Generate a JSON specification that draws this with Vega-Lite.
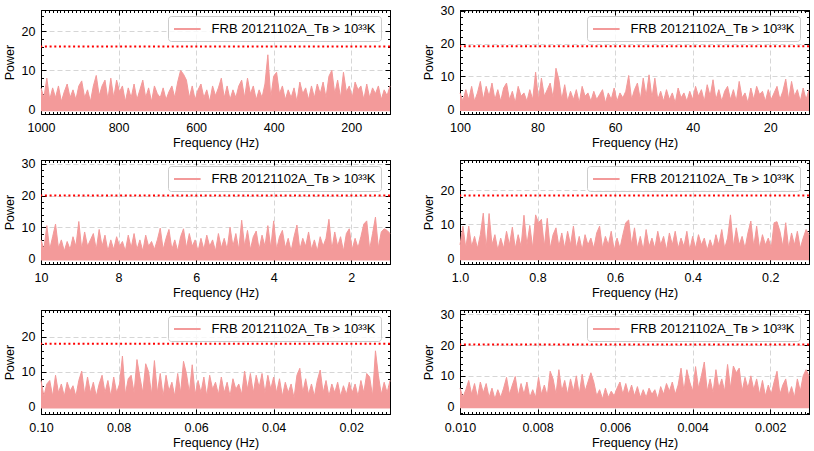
{
  "$schema": "https://vega.github.io/schema/vega-lite/v6.json",
  "padding": {"left": 3, "top": 4, "right": 5, "bottom": 5},
  "columns": 2,
  "spacing": {"row": 46, "column": 70},
  "bounds": "flush",
  "resolve": {"scale": {"color": "independent"}, "legend": {"color": "independent"}},
  "datasets": {
    "p1": [
      {"f":1000,"p":5.5},{"f":992.5,"p":3},{"f":985,"p":8},{"f":977.5,"p":2.5},{"f":970,"p":5.5},{"f":962.5,"p":3},{"f":955,"p":6},{"f":947.5,"p":2},{"f":940,"p":4.5},{"f":932.5,"p":6.5},
      {"f":925,"p":3},{"f":917.5,"p":5},{"f":910,"p":2.5},{"f":902.5,"p":6},{"f":895,"p":7.3},{"f":887.5,"p":3},{"f":880,"p":5},{"f":872.5,"p":2},{"f":865,"p":6},{"f":857.5,"p":8.7},
      {"f":850,"p":3.5},{"f":842.5,"p":6},{"f":835,"p":7.5},{"f":827.5,"p":2.5},{"f":820,"p":8},{"f":812.5,"p":3},{"f":805,"p":7.5},{"f":797.5,"p":4.5},{"f":790,"p":6},{"f":782.5,"p":2},
      {"f":775,"p":5.5},{"f":767.5,"p":3},{"f":760,"p":6.5},{"f":752.5,"p":2.5},{"f":745,"p":5},{"f":737.5,"p":7.5},{"f":730,"p":3},{"f":722.5,"p":5.5},{"f":715,"p":2},{"f":707.5,"p":6},
      {"f":700,"p":4},{"f":692.5,"p":3},{"f":685,"p":5.5},{"f":677.5,"p":2.5},{"f":670,"p":4.5},{"f":662.5,"p":6},{"f":655,"p":3},{"f":647.5,"p":7},{"f":640,"p":10},{"f":632.5,"p":9},
      {"f":625,"p":7.5},{"f":617.5,"p":3},{"f":610,"p":6},{"f":602.5,"p":2.5},{"f":595,"p":5},{"f":587.5,"p":6.5},{"f":580,"p":3},{"f":572.5,"p":5},{"f":565,"p":2},{"f":557.5,"p":6},
      {"f":550,"p":3.5},{"f":542.5,"p":5.5},{"f":535,"p":8},{"f":527.5,"p":3},{"f":520,"p":6},{"f":512.5,"p":2.5},{"f":505,"p":5},{"f":497.5,"p":3},{"f":490,"p":6},{"f":482.5,"p":7.5},
      {"f":475,"p":3},{"f":467.5,"p":8},{"f":460,"p":4},{"f":452.5,"p":6},{"f":445,"p":2.5},{"f":437.5,"p":5},{"f":430,"p":3},{"f":422.5,"p":6.5},{"f":415,"p":14},{"f":407.5,"p":3},
      {"f":400,"p":8.5},{"f":392.5,"p":9.5},{"f":385,"p":4},{"f":377.5,"p":6},{"f":370,"p":2.5},{"f":362.5,"p":5},{"f":355,"p":3},{"f":347.5,"p":5.5},{"f":340,"p":2},{"f":332.5,"p":7},
      {"f":325,"p":4},{"f":317.5,"p":5.5},{"f":310,"p":2.5},{"f":302.5,"p":6},{"f":295,"p":3},{"f":287.5,"p":6.5},{"f":280,"p":4},{"f":272.5,"p":7},{"f":265,"p":3},{"f":257.5,"p":8.5},
      {"f":250,"p":10},{"f":242.5,"p":4},{"f":235,"p":7.5},{"f":227.5,"p":3},{"f":220,"p":9.5},{"f":212.5,"p":4.5},{"f":205,"p":6},{"f":197.5,"p":3},{"f":190,"p":7},{"f":182.5,"p":5},
      {"f":175,"p":6},{"f":167.5,"p":2.5},{"f":160,"p":6.5},{"f":152.5,"p":3},{"f":145,"p":5.5},{"f":137.5,"p":4},{"f":130,"p":6},{"f":122.5,"p":2.5},{"f":115,"p":5},{"f":107.5,"p":3.5},
      {"f":100,"p":6}
    ],
    "p2": [
      {"f":100,"p":5},{"f":99.25,"p":2.5},{"f":98.5,"p":6},{"f":97.75,"p":3},{"f":97,"p":7},{"f":96.25,"p":2.5},{"f":95.5,"p":5},{"f":94.75,"p":8.5},{"f":94,"p":3},{"f":93.25,"p":7},
      {"f":92.5,"p":4},{"f":91.75,"p":8},{"f":91,"p":3},{"f":90.25,"p":6},{"f":89.5,"p":2.5},{"f":88.75,"p":6.5},{"f":88,"p":8},{"f":87.25,"p":3},{"f":86.5,"p":5.5},{"f":85.75,"p":2},
      {"f":85,"p":7},{"f":84.25,"p":4},{"f":83.5,"p":5},{"f":82.75,"p":2.5},{"f":82,"p":6},{"f":81.25,"p":3},{"f":80.5,"p":11.3},{"f":79.75,"p":3},{"f":79,"p":9.5},{"f":78.25,"p":4},
      {"f":77.5,"p":6},{"f":76.75,"p":8},{"f":76,"p":3.5},{"f":75.25,"p":12.5},{"f":74.5,"p":9},{"f":73.75,"p":3},{"f":73,"p":7.5},{"f":72.25,"p":2.5},{"f":71.5,"p":5.5},{"f":70.75,"p":3},
      {"f":70,"p":6},{"f":69.25,"p":2},{"f":68.5,"p":7},{"f":67.75,"p":4},{"f":67,"p":5},{"f":66.25,"p":2.5},{"f":65.5,"p":5.5},{"f":64.75,"p":3},{"f":64,"p":4.5},{"f":63.25,"p":6},
      {"f":62.5,"p":2},{"f":61.75,"p":5},{"f":61,"p":3},{"f":60.25,"p":6.5},{"f":59.5,"p":2.5},{"f":58.75,"p":5},{"f":58,"p":3.5},{"f":57.25,"p":5.5},{"f":56.5,"p":10.3},{"f":55.75,"p":3},
      {"f":55,"p":6},{"f":54.25,"p":8},{"f":53.5,"p":3},{"f":52.75,"p":9.5},{"f":52,"p":4},{"f":51.25,"p":10.5},{"f":50.5,"p":3.5},{"f":49.75,"p":9.5},{"f":49,"p":3},{"f":48.25,"p":5.5},
      {"f":47.5,"p":2.5},{"f":46.75,"p":6},{"f":46,"p":3},{"f":45.25,"p":5},{"f":44.5,"p":2},{"f":43.75,"p":6.5},{"f":43,"p":3.5},{"f":42.25,"p":5},{"f":41.5,"p":2.5},{"f":40.75,"p":5.5},
      {"f":40,"p":3},{"f":39.25,"p":7},{"f":38.5,"p":4},{"f":37.75,"p":6},{"f":37,"p":2.5},{"f":36.25,"p":7.5},{"f":35.5,"p":4},{"f":34.75,"p":9},{"f":34,"p":3},{"f":33.25,"p":6},
      {"f":32.5,"p":2.5},{"f":31.75,"p":5.5},{"f":31,"p":7},{"f":30.25,"p":3},{"f":29.5,"p":6},{"f":28.75,"p":2.5},{"f":28,"p":8.5},{"f":27.25,"p":3.5},{"f":26.5,"p":5},{"f":25.75,"p":2},
      {"f":25,"p":6.5},{"f":24.25,"p":3},{"f":23.5,"p":7},{"f":22.75,"p":4.5},{"f":22,"p":5.5},{"f":21.25,"p":2.5},{"f":20.5,"p":6},{"f":19.75,"p":3},{"f":19,"p":5},{"f":18.25,"p":7},
      {"f":17.5,"p":3},{"f":16.75,"p":5.5},{"f":16,"p":9.2},{"f":15.25,"p":3},{"f":14.5,"p":8.5},{"f":13.75,"p":4},{"f":13,"p":6},{"f":12.25,"p":2.5},{"f":11.5,"p":6.5},{"f":10.75,"p":3},
      {"f":10,"p":6}
    ],
    "p3": [
      {"f":10,"p":6},{"f":9.925,"p":3},{"f":9.85,"p":10.5},{"f":9.775,"p":3},{"f":9.7,"p":7},{"f":9.625,"p":11},{"f":9.55,"p":3.5},{"f":9.475,"p":6},{"f":9.4,"p":2.5},{"f":9.325,"p":5.5},
      {"f":9.25,"p":3},{"f":9.175,"p":7},{"f":9.1,"p":4},{"f":9.025,"p":11.8},{"f":8.95,"p":3},{"f":8.875,"p":8.5},{"f":8.8,"p":4},{"f":8.725,"p":6},{"f":8.65,"p":8},{"f":8.575,"p":3},
      {"f":8.5,"p":9.3},{"f":8.425,"p":4},{"f":8.35,"p":7.5},{"f":8.275,"p":2.5},{"f":8.2,"p":6},{"f":8.125,"p":3},{"f":8.05,"p":7},{"f":7.975,"p":4},{"f":7.9,"p":5.5},{"f":7.825,"p":2.5},
      {"f":7.75,"p":7.5},{"f":7.675,"p":3.5},{"f":7.6,"p":8},{"f":7.525,"p":3},{"f":7.45,"p":6},{"f":7.375,"p":2.5},{"f":7.3,"p":7.5},{"f":7.225,"p":4},{"f":7.15,"p":5.5},{"f":7.075,"p":3},
      {"f":7,"p":6},{"f":6.925,"p":9.7},{"f":6.85,"p":3},{"f":6.775,"p":6.5},{"f":6.7,"p":9.3},{"f":6.625,"p":3},{"f":6.55,"p":6},{"f":6.475,"p":2.5},{"f":6.4,"p":7},{"f":6.325,"p":9.5},
      {"f":6.25,"p":3.5},{"f":6.175,"p":8},{"f":6.1,"p":4},{"f":6.025,"p":6},{"f":5.95,"p":2.5},{"f":5.875,"p":6.5},{"f":5.8,"p":3},{"f":5.725,"p":7.5},{"f":5.65,"p":4},{"f":5.575,"p":6},
      {"f":5.5,"p":2.5},{"f":5.425,"p":8},{"f":5.35,"p":3.5},{"f":5.275,"p":6.5},{"f":5.2,"p":3},{"f":5.125,"p":10},{"f":5.05,"p":4},{"f":4.975,"p":8},{"f":4.9,"p":3},{"f":4.825,"p":12.2},
      {"f":4.75,"p":4},{"f":4.675,"p":9},{"f":4.6,"p":3},{"f":4.525,"p":7},{"f":4.45,"p":8.8},{"f":4.375,"p":3},{"f":4.3,"p":7.5},{"f":4.225,"p":4},{"f":4.15,"p":10.5},{"f":4.075,"p":3.5},
      {"f":4,"p":12},{"f":3.925,"p":3},{"f":3.85,"p":7},{"f":3.775,"p":9},{"f":3.7,"p":3.5},{"f":3.625,"p":6.5},{"f":3.55,"p":2.5},{"f":3.475,"p":7},{"f":3.4,"p":10.7},{"f":3.325,"p":3},
      {"f":3.25,"p":6.5},{"f":3.175,"p":4},{"f":3.1,"p":8.5},{"f":3.025,"p":3},{"f":2.95,"p":6},{"f":2.875,"p":2.5},{"f":2.8,"p":7},{"f":2.725,"p":4},{"f":2.65,"p":6.5},{"f":2.575,"p":12.5},
      {"f":2.5,"p":3},{"f":2.425,"p":8.5},{"f":2.35,"p":4},{"f":2.275,"p":7},{"f":2.2,"p":2.5},{"f":2.125,"p":8},{"f":2.05,"p":9.5},{"f":1.975,"p":3},{"f":1.9,"p":6.5},{"f":1.825,"p":3.5},
      {"f":1.75,"p":7},{"f":1.675,"p":11},{"f":1.6,"p":12},{"f":1.525,"p":3},{"f":1.45,"p":8},{"f":1.375,"p":13.2},{"f":1.3,"p":3.5},{"f":1.225,"p":8.5},{"f":1.15,"p":9.5},{"f":1.075,"p":9},
      {"f":1,"p":8}
    ],
    "p4": [
      {"f":1,"p":4},{"f":0.9925,"p":9.5},{"f":0.985,"p":3},{"f":0.9775,"p":9.5},{"f":0.97,"p":3.5},{"f":0.9625,"p":6.5},{"f":0.955,"p":3},{"f":0.9475,"p":7},{"f":0.94,"p":13.3},{"f":0.9325,"p":3},
      {"f":0.925,"p":13.2},{"f":0.9175,"p":4},{"f":0.91,"p":7},{"f":0.9025,"p":2.5},{"f":0.895,"p":6},{"f":0.8875,"p":3},{"f":0.88,"p":8},{"f":0.8725,"p":4},{"f":0.865,"p":9.2},{"f":0.8575,"p":3},
      {"f":0.85,"p":7},{"f":0.8425,"p":3.5},{"f":0.835,"p":12.7},{"f":0.8275,"p":4},{"f":0.82,"p":9.7},{"f":0.8125,"p":3},{"f":0.805,"p":12.8},{"f":0.7975,"p":10.5},{"f":0.79,"p":11.5},{"f":0.7825,"p":3.5},
      {"f":0.775,"p":11.8},{"f":0.7675,"p":3},{"f":0.76,"p":7},{"f":0.7525,"p":9},{"f":0.745,"p":3.5},{"f":0.7375,"p":7.5},{"f":0.73,"p":3},{"f":0.7225,"p":8},{"f":0.715,"p":4},{"f":0.7075,"p":9.5},
      {"f":0.7,"p":3},{"f":0.6925,"p":6.5},{"f":0.685,"p":2.5},{"f":0.6775,"p":7},{"f":0.67,"p":4},{"f":0.6625,"p":6},{"f":0.655,"p":3},{"f":0.6475,"p":7.5},{"f":0.64,"p":9.5},{"f":0.6325,"p":3},
      {"f":0.625,"p":6.5},{"f":0.6175,"p":4},{"f":0.61,"p":8},{"f":0.6025,"p":2.5},{"f":0.595,"p":6},{"f":0.5875,"p":3},{"f":0.58,"p":7},{"f":0.5725,"p":10.5},{"f":0.565,"p":11.3},{"f":0.5575,"p":4},
      {"f":0.55,"p":9},{"f":0.5425,"p":3},{"f":0.535,"p":6.5},{"f":0.5275,"p":2.5},{"f":0.52,"p":8.5},{"f":0.5125,"p":3.5},{"f":0.505,"p":6},{"f":0.4975,"p":3},{"f":0.49,"p":8},{"f":0.4825,"p":4},
      {"f":0.475,"p":6.5},{"f":0.4675,"p":2.5},{"f":0.46,"p":7.5},{"f":0.4525,"p":4},{"f":0.445,"p":8},{"f":0.4375,"p":3},{"f":0.43,"p":6},{"f":0.4225,"p":3.5},{"f":0.415,"p":8},{"f":0.4075,"p":2.5},
      {"f":0.4,"p":6.5},{"f":0.3925,"p":3},{"f":0.385,"p":7},{"f":0.3775,"p":4},{"f":0.37,"p":6},{"f":0.3625,"p":2.5},{"f":0.355,"p":5.5},{"f":0.3475,"p":3},{"f":0.34,"p":7},{"f":0.3325,"p":4},
      {"f":0.325,"p":8.5},{"f":0.3175,"p":3},{"f":0.31,"p":6},{"f":0.3025,"p":12.8},{"f":0.295,"p":3.5},{"f":0.2875,"p":9},{"f":0.28,"p":4},{"f":0.2725,"p":6.5},{"f":0.265,"p":3},{"f":0.2575,"p":7.5},
      {"f":0.25,"p":11},{"f":0.2425,"p":3.5},{"f":0.235,"p":9.5},{"f":0.2275,"p":3},{"f":0.22,"p":7},{"f":0.2125,"p":4},{"f":0.205,"p":6},{"f":0.1975,"p":3},{"f":0.19,"p":10.5},{"f":0.1825,"p":10.8},
      {"f":0.175,"p":8},{"f":0.1675,"p":3.5},{"f":0.16,"p":10.5},{"f":0.1525,"p":3},{"f":0.145,"p":7.5},{"f":0.1375,"p":4},{"f":0.13,"p":8},{"f":0.1225,"p":3},{"f":0.115,"p":6},{"f":0.1075,"p":8.5},
      {"f":0.1,"p":7}
    ],
    "p5": [
      {"f":0.1,"p":7.5},{"f":0.09925,"p":3},{"f":0.0985,"p":6.5},{"f":0.09775,"p":7.5},{"f":0.097,"p":3},{"f":0.09625,"p":9},{"f":0.0955,"p":4},{"f":0.09475,"p":6.5},{"f":0.094,"p":3},{"f":0.09325,"p":7},
      {"f":0.0925,"p":4.5},{"f":0.09175,"p":6},{"f":0.091,"p":3},{"f":0.09025,"p":7.5},{"f":0.0895,"p":10.2},{"f":0.08875,"p":3.5},{"f":0.088,"p":8.5},{"f":0.08725,"p":4},{"f":0.0865,"p":7},{"f":0.08575,"p":3},
      {"f":0.085,"p":6.5},{"f":0.08425,"p":9},{"f":0.0835,"p":4},{"f":0.08275,"p":7.5},{"f":0.082,"p":3},{"f":0.08125,"p":8.5},{"f":0.0805,"p":4},{"f":0.07975,"p":6.5},{"f":0.079,"p":14.5},{"f":0.07825,"p":3.5},
      {"f":0.0775,"p":8},{"f":0.07675,"p":9},{"f":0.076,"p":4},{"f":0.07525,"p":13.5},{"f":0.0745,"p":8.5},{"f":0.07375,"p":4},{"f":0.073,"p":12.3},{"f":0.07225,"p":10},{"f":0.0715,"p":3.5},{"f":0.07075,"p":13.2},
      {"f":0.07,"p":4},{"f":0.06925,"p":9.5},{"f":0.0685,"p":3},{"f":0.06775,"p":9},{"f":0.067,"p":4.5},{"f":0.06625,"p":7},{"f":0.0655,"p":3},{"f":0.06475,"p":9.5},{"f":0.064,"p":4},{"f":0.06325,"p":13},
      {"f":0.0625,"p":9.5},{"f":0.06175,"p":4},{"f":0.061,"p":12},{"f":0.06025,"p":3.5},{"f":0.0595,"p":7.5},{"f":0.05875,"p":4},{"f":0.058,"p":8.5},{"f":0.05725,"p":3},{"f":0.0565,"p":9},{"f":0.05575,"p":5},
      {"f":0.055,"p":7},{"f":0.05425,"p":3.5},{"f":0.0535,"p":8.5},{"f":0.05275,"p":4},{"f":0.052,"p":7},{"f":0.05125,"p":3},{"f":0.0505,"p":8},{"f":0.04975,"p":5},{"f":0.049,"p":6.5},{"f":0.04825,"p":3.5},
      {"f":0.0475,"p":10.2},{"f":0.04675,"p":5},{"f":0.046,"p":9.5},{"f":0.04525,"p":4},{"f":0.0445,"p":9},{"f":0.04375,"p":5.5},{"f":0.043,"p":9.5},{"f":0.04225,"p":4},{"f":0.0415,"p":9},{"f":0.04075,"p":5},
      {"f":0.04,"p":8.5},{"f":0.03925,"p":4},{"f":0.0385,"p":8},{"f":0.03775,"p":3},{"f":0.037,"p":7},{"f":0.03625,"p":4},{"f":0.0355,"p":6.5},{"f":0.03475,"p":2.5},{"f":0.034,"p":9},{"f":0.03325,"p":11},
      {"f":0.0325,"p":4},{"f":0.03175,"p":8},{"f":0.031,"p":3.5},{"f":0.03025,"p":6.5},{"f":0.0295,"p":3},{"f":0.02875,"p":7.5},{"f":0.028,"p":10.5},{"f":0.02725,"p":4},{"f":0.0265,"p":7.5},{"f":0.02575,"p":3},
      {"f":0.025,"p":6.5},{"f":0.02425,"p":4},{"f":0.0235,"p":7},{"f":0.02275,"p":3},{"f":0.022,"p":6},{"f":0.02125,"p":3.5},{"f":0.0205,"p":7},{"f":0.01975,"p":4},{"f":0.019,"p":6.5},{"f":0.01825,"p":3},
      {"f":0.0175,"p":7.5},{"f":0.01675,"p":4},{"f":0.016,"p":9.5},{"f":0.01525,"p":8.5},{"f":0.0145,"p":3},{"f":0.01375,"p":16},{"f":0.013,"p":9},{"f":0.01225,"p":3.5},{"f":0.0115,"p":7},{"f":0.01075,"p":4},
      {"f":0.01,"p":7.5}
    ],
    "p6": [
      {"f":0.01,"p":6},{"f":0.009925,"p":3},{"f":0.00985,"p":5.5},{"f":0.009775,"p":8.5},{"f":0.0097,"p":4},{"f":0.009625,"p":7.5},{"f":0.00955,"p":3},{"f":0.009475,"p":8},{"f":0.0094,"p":4.5},{"f":0.009325,"p":7.5},
      {"f":0.00925,"p":3},{"f":0.009175,"p":6},{"f":0.0091,"p":2.5},{"f":0.009025,"p":5.5},{"f":0.00895,"p":3},{"f":0.008875,"p":6},{"f":0.0088,"p":9.5},{"f":0.008725,"p":4},{"f":0.00865,"p":7},{"f":0.008575,"p":9.8},
      {"f":0.0085,"p":3.5},{"f":0.008425,"p":7.5},{"f":0.00835,"p":4},{"f":0.008275,"p":8},{"f":0.0082,"p":3},{"f":0.008125,"p":5.5},{"f":0.00805,"p":3},{"f":0.007975,"p":9.5},{"f":0.0079,"p":4},{"f":0.007825,"p":7},
      {"f":0.00775,"p":3.5},{"f":0.007675,"p":11.5},{"f":0.0076,"p":9},{"f":0.007525,"p":4},{"f":0.00745,"p":12},{"f":0.007375,"p":5},{"f":0.0073,"p":8.5},{"f":0.007225,"p":4},{"f":0.00715,"p":9},{"f":0.007075,"p":5},
      {"f":0.007,"p":10},{"f":0.006925,"p":4},{"f":0.00685,"p":10.5},{"f":0.006775,"p":5},{"f":0.0067,"p":8},{"f":0.006625,"p":11},{"f":0.00655,"p":8},{"f":0.006475,"p":3.5},{"f":0.0064,"p":5.5},{"f":0.006325,"p":2.5},
      {"f":0.00625,"p":6},{"f":0.006175,"p":3},{"f":0.0061,"p":5},{"f":0.006025,"p":3.5},{"f":0.00595,"p":6},{"f":0.005875,"p":8},{"f":0.0058,"p":4},{"f":0.005725,"p":7.5},{"f":0.00565,"p":4},{"f":0.005575,"p":7},
      {"f":0.0055,"p":3.5},{"f":0.005425,"p":6.5},{"f":0.00535,"p":3},{"f":0.005275,"p":5.5},{"f":0.0052,"p":3},{"f":0.005125,"p":6},{"f":0.00505,"p":4},{"f":0.004975,"p":5.5},{"f":0.0049,"p":2.5},{"f":0.004825,"p":6.5},
      {"f":0.00475,"p":4},{"f":0.004675,"p":7.5},{"f":0.0046,"p":5},{"f":0.004525,"p":8},{"f":0.00445,"p":4},{"f":0.004375,"p":7},{"f":0.0043,"p":12.5},{"f":0.004225,"p":5},{"f":0.00415,"p":12},{"f":0.004075,"p":8},
      {"f":0.004,"p":5},{"f":0.003925,"p":13},{"f":0.00385,"p":6},{"f":0.003775,"p":10},{"f":0.0037,"p":14.5},{"f":0.003625,"p":5},{"f":0.00355,"p":9},{"f":0.003475,"p":4.5},{"f":0.0034,"p":12},{"f":0.003325,"p":6},
      {"f":0.00325,"p":9},{"f":0.003175,"p":5},{"f":0.0031,"p":13.7},{"f":0.003025,"p":6},{"f":0.00295,"p":13.2},{"f":0.002875,"p":11},{"f":0.0028,"p":12.5},{"f":0.002725,"p":5},{"f":0.00265,"p":9.5},{"f":0.002575,"p":6},
      {"f":0.0025,"p":10},{"f":0.002425,"p":5.5},{"f":0.00235,"p":9},{"f":0.002275,"p":4},{"f":0.0022,"p":8.5},{"f":0.002125,"p":3.5},{"f":0.00205,"p":7},{"f":0.001975,"p":4},{"f":0.0019,"p":8},{"f":0.001825,"p":11.5},
      {"f":0.00175,"p":4},{"f":0.001675,"p":7},{"f":0.0016,"p":9},{"f":0.001525,"p":3.5},{"f":0.00145,"p":6.5},{"f":0.001375,"p":3},{"f":0.0013,"p":9},{"f":0.001225,"p":5},{"f":0.00115,"p":10},{"f":0.001075,"p":12},
      {"f":0.001,"p":10}
    ]
  },
  "concat": [
    {
      "width": 349, "height": 104,
      "data": {"name": "p1"},
      "layer": [
        {
          "mark": {"type": "area", "opacity": 1, "line": {"strokeWidth": 1}},
          "encoding": {
            "x": {"field": "f", "type": "quantitative", "title": "Frequency (Hz)", "scale": {"domain": [100, 1000], "reverse": true, "nice": false, "zero": false}, "axis": {"values": [1000, 800, 600, 400, 200], "format": "d", "grid": true}},
            "y": {"field": "p", "type": "quantitative", "title": "Power", "scale": {"domain": [-1.2, 25.5], "nice": false, "zero": false}, "axis": {"tickCount": 3, "grid": true}},
            "y2": {"datum": -0.5},
            "color": {"datum": "FRB 20121102A_Tʙ > 10³³K", "scale": {"range": ["#f39a9a"]}, "legend": {"title": null}}
          }
        },
        {
          "mark": {"type": "point", "opacity": 0},
          "encoding": {
            "x": {"field": "f", "type": "quantitative", "title": null, "scale": {"domain": [100, 1000], "reverse": true, "nice": false, "zero": false}, "axis": {"orient": "bottom", "tickCount": 90, "labels": false, "tickSize": -2.5}},
            "y": {"field": "p", "type": "quantitative", "title": null, "scale": {"domain": [-1.2, 25.5], "nice": false, "zero": false}, "axis": {"orient": "left", "tickCount": 15, "labels": false, "tickSize": -2.5}}
          }
        },
        {
          "mark": {"type": "point", "opacity": 0},
          "encoding": {
            "x": {"field": "f", "type": "quantitative", "title": null, "scale": {"domain": [100, 1000], "reverse": true, "nice": false, "zero": false}, "axis": {"orient": "top", "values": [1000, 800, 600, 400, 200], "labels": false}},
            "y": {"field": "p", "type": "quantitative", "title": null, "scale": {"domain": [-1.2, 25.5], "nice": false, "zero": false}, "axis": {"orient": "right", "tickCount": 3, "labels": false}}
          }
        },
        {
          "mark": {"type": "point", "opacity": 0},
          "encoding": {
            "x": {"field": "f", "type": "quantitative", "title": null, "scale": {"domain": [100, 1000], "reverse": true, "nice": false, "zero": false}, "axis": {"orient": "top", "tickCount": 90, "labels": false, "tickSize": -2.5}},
            "y": {"field": "p", "type": "quantitative", "title": null, "scale": {"domain": [-1.2, 25.5], "nice": false, "zero": false}, "axis": {"orient": "right", "tickCount": 15, "labels": false, "tickSize": -2.5}}
          }
        },
        {
          "data": {"values": [{"thr": 16.1}]},
          "mark": {"type": "rule", "color": "#ff0000", "strokeWidth": 2, "strokeDash": [2, 2.7]},
          "encoding": {"y": {"field": "thr", "type": "quantitative", "scale": {"domain": [-1.2, 25.5], "nice": false, "zero": false}, "axis": null}}
        }
      ],
      "resolve": {"axis": {"x": "independent", "y": "independent"}}
    },
    {
      "width": 349, "height": 104,
      "data": {"name": "p2"},
      "layer": [
        {
          "mark": {"type": "area", "opacity": 1, "line": {"strokeWidth": 1}},
          "encoding": {
            "x": {"field": "f", "type": "quantitative", "title": "Frequency (Hz)", "scale": {"domain": [10, 100], "reverse": true, "nice": false, "zero": false}, "axis": {"values": [100, 80, 60, 40, 20], "format": "d", "grid": true}},
            "y": {"field": "p", "type": "quantitative", "title": "Power", "scale": {"domain": [-1.4, 30.2], "nice": false, "zero": false}, "axis": {"tickCount": 3, "grid": true}},
            "y2": {"datum": -0.5},
            "color": {"datum": "FRB 20121102A_Tʙ > 10³³K", "scale": {"range": ["#f39a9a"]}, "legend": {"title": null}}
          }
        },
        {
          "mark": {"type": "point", "opacity": 0},
          "encoding": {
            "x": {"field": "f", "type": "quantitative", "title": null, "scale": {"domain": [10, 100], "reverse": true, "nice": false, "zero": false}, "axis": {"orient": "bottom", "tickCount": 90, "labels": false, "tickSize": -2.5}},
            "y": {"field": "p", "type": "quantitative", "title": null, "scale": {"domain": [-1.4, 30.2], "nice": false, "zero": false}, "axis": {"orient": "left", "tickCount": 15, "labels": false, "tickSize": -2.5}}
          }
        },
        {
          "mark": {"type": "point", "opacity": 0},
          "encoding": {
            "x": {"field": "f", "type": "quantitative", "title": null, "scale": {"domain": [10, 100], "reverse": true, "nice": false, "zero": false}, "axis": {"orient": "top", "values": [100, 80, 60, 40, 20], "labels": false}},
            "y": {"field": "p", "type": "quantitative", "title": null, "scale": {"domain": [-1.4, 30.2], "nice": false, "zero": false}, "axis": {"orient": "right", "tickCount": 3, "labels": false}}
          }
        },
        {
          "mark": {"type": "point", "opacity": 0},
          "encoding": {
            "x": {"field": "f", "type": "quantitative", "title": null, "scale": {"domain": [10, 100], "reverse": true, "nice": false, "zero": false}, "axis": {"orient": "top", "tickCount": 90, "labels": false, "tickSize": -2.5}},
            "y": {"field": "p", "type": "quantitative", "title": null, "scale": {"domain": [-1.4, 30.2], "nice": false, "zero": false}, "axis": {"orient": "right", "tickCount": 15, "labels": false, "tickSize": -2.5}}
          }
        },
        {
          "data": {"values": [{"thr": 19.2}]},
          "mark": {"type": "rule", "color": "#ff0000", "strokeWidth": 2, "strokeDash": [2, 2.7]},
          "encoding": {"y": {"field": "thr", "type": "quantitative", "scale": {"domain": [-1.4, 30.2], "nice": false, "zero": false}, "axis": null}}
        }
      ],
      "resolve": {"axis": {"x": "independent", "y": "independent"}}
    },
    {
      "width": 349, "height": 104,
      "data": {"name": "p3"},
      "layer": [
        {
          "mark": {"type": "area", "opacity": 1, "line": {"strokeWidth": 1}},
          "encoding": {
            "x": {"field": "f", "type": "quantitative", "title": "Frequency (Hz)", "scale": {"domain": [1, 10], "reverse": true, "nice": false, "zero": false}, "axis": {"values": [10, 8, 6, 4, 2], "format": "d", "grid": true}},
            "y": {"field": "p", "type": "quantitative", "title": "Power", "scale": {"domain": [-1.6, 31.2], "nice": false, "zero": false}, "axis": {"tickCount": 3, "grid": true}},
            "y2": {"datum": -0.5},
            "color": {"datum": "FRB 20121102A_Tʙ > 10³³K", "scale": {"range": ["#f39a9a"]}, "legend": {"title": null}}
          }
        },
        {
          "mark": {"type": "point", "opacity": 0},
          "encoding": {
            "x": {"field": "f", "type": "quantitative", "title": null, "scale": {"domain": [1, 10], "reverse": true, "nice": false, "zero": false}, "axis": {"orient": "bottom", "tickCount": 90, "labels": false, "tickSize": -2.5}},
            "y": {"field": "p", "type": "quantitative", "title": null, "scale": {"domain": [-1.6, 31.2], "nice": false, "zero": false}, "axis": {"orient": "left", "tickCount": 15, "labels": false, "tickSize": -2.5}}
          }
        },
        {
          "mark": {"type": "point", "opacity": 0},
          "encoding": {
            "x": {"field": "f", "type": "quantitative", "title": null, "scale": {"domain": [1, 10], "reverse": true, "nice": false, "zero": false}, "axis": {"orient": "top", "values": [10, 8, 6, 4, 2], "labels": false}},
            "y": {"field": "p", "type": "quantitative", "title": null, "scale": {"domain": [-1.6, 31.2], "nice": false, "zero": false}, "axis": {"orient": "right", "tickCount": 3, "labels": false}}
          }
        },
        {
          "mark": {"type": "point", "opacity": 0},
          "encoding": {
            "x": {"field": "f", "type": "quantitative", "title": null, "scale": {"domain": [1, 10], "reverse": true, "nice": false, "zero": false}, "axis": {"orient": "top", "tickCount": 90, "labels": false, "tickSize": -2.5}},
            "y": {"field": "p", "type": "quantitative", "title": null, "scale": {"domain": [-1.6, 31.2], "nice": false, "zero": false}, "axis": {"orient": "right", "tickCount": 15, "labels": false, "tickSize": -2.5}}
          }
        },
        {
          "data": {"values": [{"thr": 20.0}]},
          "mark": {"type": "rule", "color": "#ff0000", "strokeWidth": 2, "strokeDash": [2, 2.7]},
          "encoding": {"y": {"field": "thr", "type": "quantitative", "scale": {"domain": [-1.6, 31.2], "nice": false, "zero": false}, "axis": null}}
        }
      ],
      "resolve": {"axis": {"x": "independent", "y": "independent"}}
    },
    {
      "width": 349, "height": 104,
      "data": {"name": "p4"},
      "layer": [
        {
          "mark": {"type": "area", "opacity": 1, "line": {"strokeWidth": 1}},
          "encoding": {
            "x": {"field": "f", "type": "quantitative", "title": "Frequency (Hz)", "scale": {"domain": [0.1, 1], "reverse": true, "nice": false, "zero": false}, "axis": {"values": [1, 0.8, 0.6, 0.4, 0.2], "format": ".1f", "grid": true}},
            "y": {"field": "p", "type": "quantitative", "title": "Power", "scale": {"domain": [-1.6, 28.9], "nice": false, "zero": false}, "axis": {"tickCount": 3, "grid": true}},
            "y2": {"datum": -0.5},
            "color": {"datum": "FRB 20121102A_Tʙ > 10³³K", "scale": {"range": ["#f39a9a"]}, "legend": {"title": null}}
          }
        },
        {
          "mark": {"type": "point", "opacity": 0},
          "encoding": {
            "x": {"field": "f", "type": "quantitative", "title": null, "scale": {"domain": [0.1, 1], "reverse": true, "nice": false, "zero": false}, "axis": {"orient": "bottom", "tickCount": 90, "labels": false, "tickSize": -2.5}},
            "y": {"field": "p", "type": "quantitative", "title": null, "scale": {"domain": [-1.6, 28.9], "nice": false, "zero": false}, "axis": {"orient": "left", "tickCount": 15, "labels": false, "tickSize": -2.5}}
          }
        },
        {
          "mark": {"type": "point", "opacity": 0},
          "encoding": {
            "x": {"field": "f", "type": "quantitative", "title": null, "scale": {"domain": [0.1, 1], "reverse": true, "nice": false, "zero": false}, "axis": {"orient": "top", "values": [1, 0.8, 0.6, 0.4, 0.2], "labels": false}},
            "y": {"field": "p", "type": "quantitative", "title": null, "scale": {"domain": [-1.6, 28.9], "nice": false, "zero": false}, "axis": {"orient": "right", "tickCount": 3, "labels": false}}
          }
        },
        {
          "mark": {"type": "point", "opacity": 0},
          "encoding": {
            "x": {"field": "f", "type": "quantitative", "title": null, "scale": {"domain": [0.1, 1], "reverse": true, "nice": false, "zero": false}, "axis": {"orient": "top", "tickCount": 90, "labels": false, "tickSize": -2.5}},
            "y": {"field": "p", "type": "quantitative", "title": null, "scale": {"domain": [-1.6, 28.9], "nice": false, "zero": false}, "axis": {"orient": "right", "tickCount": 15, "labels": false, "tickSize": -2.5}}
          }
        },
        {
          "data": {"values": [{"thr": 18.5}]},
          "mark": {"type": "rule", "color": "#ff0000", "strokeWidth": 2, "strokeDash": [2, 2.7]},
          "encoding": {"y": {"field": "thr", "type": "quantitative", "scale": {"domain": [-1.6, 28.9], "nice": false, "zero": false}, "axis": null}}
        }
      ],
      "resolve": {"axis": {"x": "independent", "y": "independent"}}
    },
    {
      "width": 349, "height": 104,
      "data": {"name": "p5"},
      "layer": [
        {
          "mark": {"type": "area", "opacity": 1, "line": {"strokeWidth": 1}},
          "encoding": {
            "x": {"field": "f", "type": "quantitative", "title": "Frequency (Hz)", "scale": {"domain": [0.01, 0.1], "reverse": true, "nice": false, "zero": false}, "axis": {"values": [0.1, 0.08, 0.06, 0.04, 0.02], "format": ".2f", "grid": true}},
            "y": {"field": "p", "type": "quantitative", "title": "Power", "scale": {"domain": [-2.1, 27.7], "nice": false, "zero": false}, "axis": {"tickCount": 3, "grid": true}},
            "y2": {"datum": -0.5},
            "color": {"datum": "FRB 20121102A_Tʙ > 10³³K", "scale": {"range": ["#f39a9a"]}, "legend": {"title": null}}
          }
        },
        {
          "mark": {"type": "point", "opacity": 0},
          "encoding": {
            "x": {"field": "f", "type": "quantitative", "title": null, "scale": {"domain": [0.01, 0.1], "reverse": true, "nice": false, "zero": false}, "axis": {"orient": "bottom", "tickCount": 90, "labels": false, "tickSize": -2.5}},
            "y": {"field": "p", "type": "quantitative", "title": null, "scale": {"domain": [-2.1, 27.7], "nice": false, "zero": false}, "axis": {"orient": "left", "tickCount": 15, "labels": false, "tickSize": -2.5}}
          }
        },
        {
          "mark": {"type": "point", "opacity": 0},
          "encoding": {
            "x": {"field": "f", "type": "quantitative", "title": null, "scale": {"domain": [0.01, 0.1], "reverse": true, "nice": false, "zero": false}, "axis": {"orient": "top", "values": [0.1, 0.08, 0.06, 0.04, 0.02], "labels": false}},
            "y": {"field": "p", "type": "quantitative", "title": null, "scale": {"domain": [-2.1, 27.7], "nice": false, "zero": false}, "axis": {"orient": "right", "tickCount": 3, "labels": false}}
          }
        },
        {
          "mark": {"type": "point", "opacity": 0},
          "encoding": {
            "x": {"field": "f", "type": "quantitative", "title": null, "scale": {"domain": [0.01, 0.1], "reverse": true, "nice": false, "zero": false}, "axis": {"orient": "top", "tickCount": 90, "labels": false, "tickSize": -2.5}},
            "y": {"field": "p", "type": "quantitative", "title": null, "scale": {"domain": [-2.1, 27.7], "nice": false, "zero": false}, "axis": {"orient": "right", "tickCount": 15, "labels": false, "tickSize": -2.5}}
          }
        },
        {
          "data": {"values": [{"thr": 18.0}]},
          "mark": {"type": "rule", "color": "#ff0000", "strokeWidth": 2, "strokeDash": [2, 2.7]},
          "encoding": {"y": {"field": "thr", "type": "quantitative", "scale": {"domain": [-2.1, 27.7], "nice": false, "zero": false}, "axis": null}}
        }
      ],
      "resolve": {"axis": {"x": "independent", "y": "independent"}}
    },
    {
      "width": 349, "height": 104,
      "data": {"name": "p6"},
      "layer": [
        {
          "mark": {"type": "area", "opacity": 1, "line": {"strokeWidth": 1}},
          "encoding": {
            "x": {"field": "f", "type": "quantitative", "title": "Frequency (Hz)", "scale": {"domain": [0.001, 0.01], "reverse": true, "nice": false, "zero": false}, "axis": {"values": [0.01, 0.008, 0.006, 0.004, 0.002], "format": ".3f", "grid": true}},
            "y": {"field": "p", "type": "quantitative", "title": "Power", "scale": {"domain": [-2.4, 31.4], "nice": false, "zero": false}, "axis": {"tickCount": 3, "grid": true}},
            "y2": {"datum": -0.5},
            "color": {"datum": "FRB 20121102A_Tʙ > 10³³K", "scale": {"range": ["#f39a9a"]}, "legend": {"title": null}}
          }
        },
        {
          "mark": {"type": "point", "opacity": 0},
          "encoding": {
            "x": {"field": "f", "type": "quantitative", "title": null, "scale": {"domain": [0.001, 0.01], "reverse": true, "nice": false, "zero": false}, "axis": {"orient": "bottom", "tickCount": 90, "labels": false, "tickSize": -2.5}},
            "y": {"field": "p", "type": "quantitative", "title": null, "scale": {"domain": [-2.4, 31.4], "nice": false, "zero": false}, "axis": {"orient": "left", "tickCount": 15, "labels": false, "tickSize": -2.5}}
          }
        },
        {
          "mark": {"type": "point", "opacity": 0},
          "encoding": {
            "x": {"field": "f", "type": "quantitative", "title": null, "scale": {"domain": [0.001, 0.01], "reverse": true, "nice": false, "zero": false}, "axis": {"orient": "top", "values": [0.01, 0.008, 0.006, 0.004, 0.002], "labels": false}},
            "y": {"field": "p", "type": "quantitative", "title": null, "scale": {"domain": [-2.4, 31.4], "nice": false, "zero": false}, "axis": {"orient": "right", "tickCount": 3, "labels": false}}
          }
        },
        {
          "mark": {"type": "point", "opacity": 0},
          "encoding": {
            "x": {"field": "f", "type": "quantitative", "title": null, "scale": {"domain": [0.001, 0.01], "reverse": true, "nice": false, "zero": false}, "axis": {"orient": "top", "tickCount": 90, "labels": false, "tickSize": -2.5}},
            "y": {"field": "p", "type": "quantitative", "title": null, "scale": {"domain": [-2.4, 31.4], "nice": false, "zero": false}, "axis": {"orient": "right", "tickCount": 15, "labels": false, "tickSize": -2.5}}
          }
        },
        {
          "data": {"values": [{"thr": 20.2}]},
          "mark": {"type": "rule", "color": "#ff0000", "strokeWidth": 2, "strokeDash": [2, 2.7]},
          "encoding": {"y": {"field": "thr", "type": "quantitative", "scale": {"domain": [-2.4, 31.4], "nice": false, "zero": false}, "axis": null}}
        }
      ],
      "resolve": {"axis": {"x": "independent", "y": "independent"}}
    }
  ],
  "config": {
    "view": {"stroke": null},
    "font": "Liberation Sans",
    "axis": {
      "domain": true, "domainColor": "#000000", "domainWidth": 1,
      "grid": false, "gridColor": "#d6d6d6", "gridDash": [5, 3], "gridWidth": 1,
      "labelFlush": false, "labelOverlap": false,
      "labelFont": "Liberation Sans", "labelFontSize": 12.5, "labelColor": "#000000",
      "titleFont": "Liberation Sans", "titleFontSize": 12.5, "titleFontWeight": "normal", "titleColor": "#000000",
      "tickColor": "#000000", "tickSize": -5, "tickWidth": 1,
      "zindex": 1
    },
    "axisBottom": {"labelPadding": 12, "titlePadding": 3},
    "axisLeft": {"labelPadding": 11, "titlePadding": 5},
    "legend": {
      "orient": "none", "legendX": 127, "legendY": 6, "padding": 5,
      "strokeColor": "#cccccc", "fillColor": "rgba(255,255,255,0.8)", "cornerRadius": 3,
      "labelFont": "Liberation Sans", "labelFontSize": 13, "labelColor": "#000000", "labelLimit": 0, "labelOffset": 22.6,
      "symbolType": "M-1,0H2.8", "symbolSize": 196, "symbolStrokeWidth": 2, "symbolStrokeColor": "#f39a9a", "symbolFillColor": "transparent"
    }
  }
}
